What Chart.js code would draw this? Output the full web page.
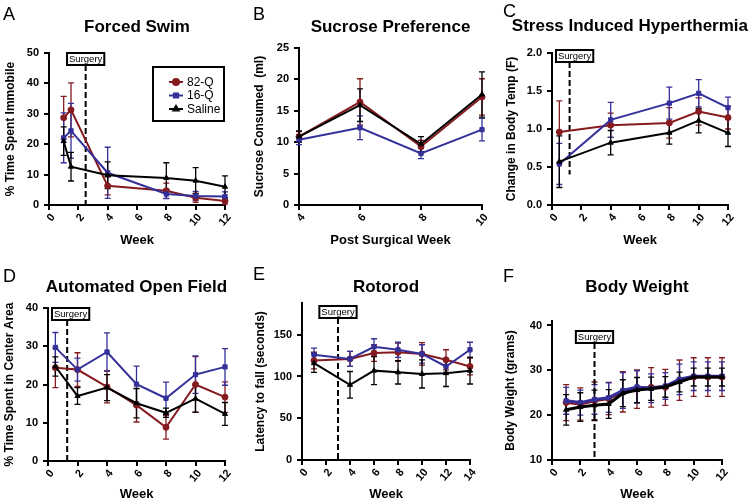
<!DOCTYPE html>
<html lang="en">
  <head>
    <meta charset="utf-8" />
    <title>Behavioural measures</title>
    <style>
      * {
        margin: 0;
        padding: 0;
      }
      body {
        width: 750px;
        height: 502px;
        background: white;
        position: relative;
        overflow: hidden;
      }
      .panel {
        position: absolute;
      }
    </style>
  </head>
  <body>
    <div class="panel" style="left: 0; top: 0"><canvas id="chartA" width="250" height="250"></canvas></div>
    <div class="panel" style="left: 250px; top: 0"><canvas id="chartB" width="250" height="250"></canvas></div>
    <div class="panel" style="left: 500px; top: 0"><canvas id="chartC" width="250" height="250"></canvas></div>
    <div class="panel" style="left: 0; top: 251px"><canvas id="chartD" width="250" height="251"></canvas></div>
    <div class="panel" style="left: 250px; top: 251px"><canvas id="chartE" width="250" height="251"></canvas></div>
    <div class="panel" style="left: 500px; top: 251px"><canvas id="chartF" width="250" height="251"></canvas></div>

    <script src="https://cdn.jsdelivr.net/npm/chart.js"></script>

    <script>
      // group labels
      const groups = ["82-Q", "16-Q", "Saline"];

      // A - forced swim
      const swimWeeks = [1, 1.5, 4, 8, 10, 12];
      const swim82Q = [28.7, 31.3, 6.3, 4.7, 2.4, 1.3];
      const swim82QErr = [7, 8.9, 3, 2.5, 1.5, 1];
      const swim16Q = [22.1, 24.4, 10.6, 3.6, 3.0, 2.8];
      const swim16QErr = [8.2, 9, 8.4, 1.5, 1.5, 1.5];
      const swimSaline = [21, 12.6, 9.8, 8.9, 8.0, 6.0];
      const swimSalineErr = [4.7, 4.7, 4.4, 5, 4.3, 3.6];

      // B - sucrose preference
      const sucroseWeeks = [4, 6, 8, 10];
      const sucrose82Q = [10.9, 16.4, 9.3, 17.2];
      const sucrose82QErr = [0.8, 3.7, 1.0, 2.9];
      const sucrose16Q = [10.4, 12.3, 8.2, 12.0];
      const sucrose16QErr = [0.8, 1.9, 0.8, 1.8];
      const sucroseSaline = [10.9, 15.9, 9.7, 17.6];
      const sucroseSalineErr = [0.9, 2.6, 1.2, 3.6];

      // C - stress induced hyperthermia
      const tempWeeks = [0.5, 4, 8, 10, 12];
      const temp82Q = [0.96, 1.05, 1.08, 1.23, 1.15];
      const temp82QErr = [0.41, 0.16, 0.2, 0.18, 0.15];
      const temp16Q = [0.54, 1.12, 1.34, 1.47, 1.28];
      const temp16QErr = [0.27, 0.23, 0.21, 0.18, 0.14];
      const tempSaline = [0.57, 0.82, 0.95, 1.11, 0.95];
      const tempSalineErr = [0.34, 0.16, 0.15, 0.16, 0.18];

      // D - automated open field
      const fieldWeeks = [0.5, 2, 4, 6, 8, 10, 12];
      const field82Q = [24.4, 23.9, 19.4, 14.6, 8.8, 20.0, 16.7];
      const field82QErr = [5.2, 4.4, 4.2, 4.4, 3.1, 7.3, 4];
      const field16Q = [29.7, 23.9, 28.5, 20.1, 16.4, 22.6, 24.6];
      const field16QErr = [3.9, 3, 5, 4.7, 4.2, 4.9, 4.8];
      const fieldSaline = [24.7, 17.0, 19.2, 15.1, 12.6, 16.3, 12.3];
      const fieldSalineErr = [2.5, 2.2, 3.4, 3.8, 1.2, 3.5, 3];

      // E - rotorod
      const rotorodWeeks = [1, 4, 6, 8, 10, 12, 14];
      const rotorod82Q = [119, 121, 128, 129, 127, 120, 112];
      const rotorod82QErr = [10, 9, 10, 11, 13.5, 12, 10];
      const rotorod16Q = [126, 121, 135.6, 132, 127, 112, 132];
      const rotorod16QErr = [8, 9, 9.6, 9, 11, 7, 9];
      const rotorodSaline = [116, 90, 107, 105, 103, 104, 107];
      const rotorodSalineErr = [11, 16, 16.8, 14, 16.8, 16, 16];

      // F - body weight
      const weightWeeks = [1, 2, 3, 4, 5, 6, 7, 8, 9, 10, 11, 12];
      const weight82Q = [22.8, 22.5, 23.2, 23.7, 25.2, 25.8, 26.2, 26.2, 27.8, 28.5, 28.5, 28.5];
      const weight82QErr = [4.0, 3.6, 4.2, 3.6, 4.5, 4.3, 4.4, 4.0, 4.5, 4.3, 4.3, 4.3];
      const weight16Q = [23.2, 22.8, 23.5, 23.9, 25.5, 26.3, 26.0, 26.5, 28.0, 28.7, 28.7, 28.7];
      const weight16QErr = [3.0, 2.8, 3.3, 3.3, 4.0, 3.6, 3.2, 3.0, 3.4, 3.2, 3.2, 3.2];
      const weightSaline = [21.2, 21.8, 22.2, 22.5, 24.9, 25.6, 25.9, 26.3, 27.4, 28.5, 28.5, 28.5];
      const weightSalineErr = [3.4, 3.2, 3.4, 3.2, 3.0, 2.8, 2.6, 2.3, 2.2, 2.0, 2.0, 2.0];

      const RED = "#861b1f";
      const BLUE = "#34309a";
      const BLACK = "#000000";
      const FONT = "'Liberation Sans', Arial, sans-serif";

      Chart.defaults.font.family = FONT;
      Chart.defaults.color = "#000";

      // error bars drawn under the lines
      const errorBars = {
        id: "errorBars",
        beforeDatasetsDraw(chart) {
          const { ctx, scales: { x, y } } = chart;
          ctx.save();
          chart.data.datasets.forEach((ds) => {
            ctx.strokeStyle = ds.borderColor;
            ctx.lineWidth = 1.3;
            ds.data.forEach((p, j) => {
              const e = ds.errors[j];
              const px = x.getPixelForValue(p.x);
              const top = y.getPixelForValue(p.y + e);
              const bot = y.getPixelForValue(p.y - e);
              ctx.beginPath();
              ctx.moveTo(px, top);
              ctx.lineTo(px, bot);
              ctx.moveTo(px - 3, top);
              ctx.lineTo(px + 3, top);
              ctx.moveTo(px - 3, bot);
              ctx.lineTo(px + 3, bot);
              ctx.stroke();
            });
          });
          ctx.restore();
        },
      };

      // dashed surgery marker with its label box
      const surgeryMark = {
        id: "surgeryMark",
        beforeDatasetsDraw(chart, args, opts) {
          if (opts.week == null) return;
          const { ctx, chartArea, scales: { x, y } } = chart;
          const px = x.getPixelForValue(opts.week);
          ctx.save();
          ctx.font = "9.5px " + FONT;
          const bw = ctx.measureText("Surgery").width + 4;
          const bh = 12;
          const bx = Math.max(px - bw / 2, chartArea.left + 4);
          const end = opts.lineEnd == null ? chartArea.bottom : y.getPixelForValue(opts.lineEnd);
          ctx.strokeStyle = "#000";
          ctx.lineWidth = 2;
          ctx.setLineDash([6, 3]);
          ctx.beginPath();
          ctx.moveTo(px, opts.boxTop + bh);
          ctx.lineTo(px, end);
          ctx.stroke();
          ctx.setLineDash([]);
          ctx.fillStyle = "#fff";
          ctx.fillRect(bx, opts.boxTop, bw, bh);
          ctx.strokeRect(bx, opts.boxTop, bw, bh);
          ctx.fillStyle = "#000";
          ctx.textAlign = "center";
          ctx.textBaseline = "middle";
          ctx.fillText("Surgery", bx + bw / 2, opts.boxTop + bh / 2 + 0.5);
          ctx.restore();
        },
      };

      // panel letter + bold title
      const panelText = {
        id: "panelText",
        afterDraw(chart, args, opts) {
          const { ctx, chartArea } = chart;
          ctx.save();
          ctx.fillStyle = "#000";
          ctx.font = "18px " + FONT;
          ctx.textAlign = "left";
          ctx.textBaseline = "alphabetic";
          ctx.fillText(opts.letter, 3, opts.letterY);
          ctx.font = "bold 17px " + FONT;
          ctx.textBaseline = "middle";
          ctx.textAlign = "center";
          const w = ctx.measureText(opts.title).width;
          let cx = (chartArea.left + chartArea.right) / 2;
          cx = Math.min(cx, chart.width - w / 2 - 2);
          ctx.fillText(opts.title, cx, opts.titleY);
          ctx.restore();
        },
      };

      // boxed legend (panel A only)
      const boxLegend = {
        id: "boxLegend",
        afterDraw(chart, args, opts) {
          if (!opts.show) return;
          const { ctx } = chart;
          ctx.save();
          ctx.strokeStyle = "#000";
          ctx.lineWidth = 2;
          ctx.fillStyle = "#fff";
          ctx.fillRect(opts.x, opts.y, opts.w, opts.h);
          ctx.strokeRect(opts.x, opts.y, opts.w, opts.h);
          ctx.font = "12px " + FONT;
          ctx.textBaseline = "middle";
          ctx.textAlign = "left";
          chart.data.datasets.forEach((ds, i) => {
            const ry = opts.y + 15 + i * 13.5;
            ctx.strokeStyle = ds.borderColor;
            ctx.fillStyle = ds.borderColor;
            ctx.lineWidth = 2;
            ctx.beginPath();
            ctx.moveTo(opts.x + 16, ry);
            ctx.lineTo(opts.x + 30, ry);
            ctx.stroke();
            Chart.helpers.drawPoint(ctx, { pointStyle: ds.pointStyle, radius: 3, rotation: 0, borderWidth: 1 }, opts.x + 23, ry);
            ctx.fillStyle = "#000";
            ctx.fillText(ds.label, opts.x + 34, ry + 0.5);
          });
          ctx.restore();
        },
      };

      function series(label, weeks, values, errors, color, style, order, width) {
        return {
          label: label,
          data: weeks.map((w, i) => ({ x: w, y: values[i] })),
          errors: errors,
          borderColor: color,
          backgroundColor: color,
          pointStyle: style,
          pointRadius: 3,
          pointBorderWidth: 1,
          borderWidth: width,
          order: order,
          clip: false,
        };
      }

      function groupSets(weeks, red, redErr, blue, blueErr, black, blackErr, width) {
        return [
          series(groups[0], weeks, red, redErr, RED, "circle", 2, width),
          series(groups[1], weeks, blue, blueErr, BLUE, "rect", 1, width),
          series(groups[2], weeks, black, blackErr, BLACK, "triangle", 0, width),
        ];
      }

      function makeChart(p) {
        const canvas = document.getElementById(p.id);
        const W = canvas.width;
        const H = canvas.height;
        const [left, top, right, bottom] = p.area;
        const noPad = (s) => {
          s.paddingLeft = 0;
          s.paddingRight = 0;
          s.paddingTop = 0;
          s.paddingBottom = 0;
        };
        return new Chart(canvas, {
          type: "line",
          data: { datasets: p.datasets },
          options: {
            responsive: false,
            animation: false,
            layout: { padding: { left: 0, top: top, right: W - right, bottom: 0 } },
            plugins: {
              legend: { display: false },
              tooltip: { enabled: false },
              panelText: { letter: p.letter, letterY: p.letterY, title: p.title, titleY: p.titleY },
              surgeryMark: p.surgery || { week: null },
              boxLegend: p.legend || { show: false },
            },
            scales: {
              x: {
                type: "linear",
                min: p.xMin,
                max: p.xMax,
                grid: { display: true, drawOnChartArea: false, tickLength: 5, color: "#000", lineWidth: 2 },
                border: { color: "#000", width: 2 },
                ticks: {
                  stepSize: 2,
                  minRotation: 50,
                  maxRotation: 50,
                  padding: 1,
                  labelOffset: 4,
                  font: { size: 11, weight: "bold" },
                  color: "#000",
                },
                title: {
                  display: true,
                  text: p.xTitle,
                  font: { size: 13, weight: "bold" },
                  color: "#000",
                  padding: { top: 0, bottom: p.xTitlePad },
                },
                afterFit(s) {
                  s.height = H - bottom;
                  noPad(s);
                },
              },
              y: {
                min: p.yMin,
                max: p.yMax,
                grid: { display: true, drawOnChartArea: false, tickLength: 5, color: "#000", lineWidth: 2 },
                border: { color: "#000", width: 2 },
                ticks: {
                  stepSize: p.yStep,
                  includeBounds: false,
                  padding: 5,
                  font: { size: 11, weight: "bold" },
                  color: "#000",
                  callback: p.yFormat || ((v) => v),
                },
                title: {
                  display: true,
                  text: p.yTitle,
                  font: { size: 12, weight: "bold" },
                  color: "#000",
                  padding: { top: p.yTitlePad, bottom: 0 },
                },
                afterFit(s) {
                  s.width = left;
                  noPad(s);
                },
              },
            },
          },
          plugins: [errorBars, surgeryMark, panelText, boxLegend],
        });
      }

      makeChart({
        id: "chartA",
        letter: "A",
        letterY: 20,
        title: "Forced Swim",
        titleY: 27,
        area: [49, 53, 225, 205],
        xMin: 0,
        xMax: 12,
        yMin: 0,
        yMax: 50,
        yStep: 10,
        xTitle: "Week",
        xTitlePad: 2,
        yTitle: "% Time Spent Immobile",
        yTitlePad: 3,
        surgery: { week: 2.5, boxTop: 53, lineEnd: null },
        legend: { show: true, x: 153, y: 67, w: 71, h: 54 },
        datasets: groupSets(swimWeeks, swim82Q, swim82QErr, swim16Q, swim16QErr, swimSaline, swimSalineErr, 2),
      });

      makeChart({
        id: "chartB",
        letter: "B",
        letterY: 20,
        title: "Sucrose Preference",
        titleY: 27,
        area: [49, 48, 232, 205],
        xMin: 4,
        xMax: 10,
        yMin: 0,
        yMax: 25,
        yStep: 5,
        xTitle: "Post Surgical Week",
        xTitlePad: 2,
        yTitle: "Sucrose Consumed  (ml)",
        yTitlePad: 2,
        datasets: groupSets(sucroseWeeks, sucrose82Q, sucrose82QErr, sucrose16Q, sucrose16QErr, sucroseSaline, sucroseSalineErr, 2),
      });

      makeChart({
        id: "chartC",
        letter: "C",
        letterY: 17,
        title: "Stress Induced Hyperthermia",
        titleY: 26,
        area: [52, 53, 228, 205],
        xMin: 0,
        xMax: 12,
        yMin: 0,
        yMax: 2,
        yStep: 0.5,
        yFormat: (v) => v.toFixed(1),
        xTitle: "Week",
        xTitlePad: 2,
        yTitle: "Change in Body Temp (F)",
        yTitlePad: 4,
        surgery: { week: 1.2, boxTop: 50, lineEnd: 0.4 },
        datasets: groupSets(tempWeeks, temp82Q, temp82QErr, temp16Q, temp16QErr, tempSaline, tempSalineErr, 2),
      });

      makeChart({
        id: "chartD",
        letter: "D",
        letterY: 31,
        title: "Automated Open Field",
        titleY: 36,
        area: [48, 57, 225, 210],
        xMin: 0,
        xMax: 12,
        yMin: 0,
        yMax: 40,
        yStep: 10,
        xTitle: "Week",
        xTitlePad: 0,
        yTitle: "% Time Spent in Center Area",
        yTitlePad: 2,
        surgery: { week: 1.3, boxTop: 57, lineEnd: null },
        datasets: groupSets(fieldWeeks, field82Q, field82QErr, field16Q, field16QErr, fieldSaline, fieldSalineErr, 2),
      });

      makeChart({
        id: "chartE",
        letter: "E",
        letterY: 29,
        title: "Rotorod",
        titleY: 36,
        area: [52, 52, 220, 209],
        xMin: 0,
        xMax: 14,
        yMin: 0,
        yMax: 188,
        yStep: 50,
        xTitle: "Week",
        xTitlePad: 0,
        yTitle: "Latency to fall (seconds)",
        yTitlePad: 3,
        surgery: { week: 3, boxTop: 55, lineEnd: null },
        datasets: groupSets(rotorodWeeks, rotorod82Q, rotorod82QErr, rotorod16Q, rotorod16QErr, rotorodSaline, rotorodSalineErr, 2),
      });

      makeChart({
        id: "chartF",
        letter: "F",
        letterY: 31,
        title: "Body Weight",
        titleY: 36,
        area: [52, 70, 222, 209],
        xMin: 0,
        xMax: 12,
        yMin: 10,
        yMax: 41,
        yStep: 10,
        xTitle: "Week",
        xTitlePad: 0,
        yTitle: "Body Weight (grams)",
        yTitlePad: 3,
        surgery: { week: 3, boxTop: 80, lineEnd: null },
        datasets: groupSets(weightWeeks, weight82Q, weight82QErr, weight16Q, weight16QErr, weightSaline, weightSalineErr, 3),
      });
    </script>
  </body>
</html>
